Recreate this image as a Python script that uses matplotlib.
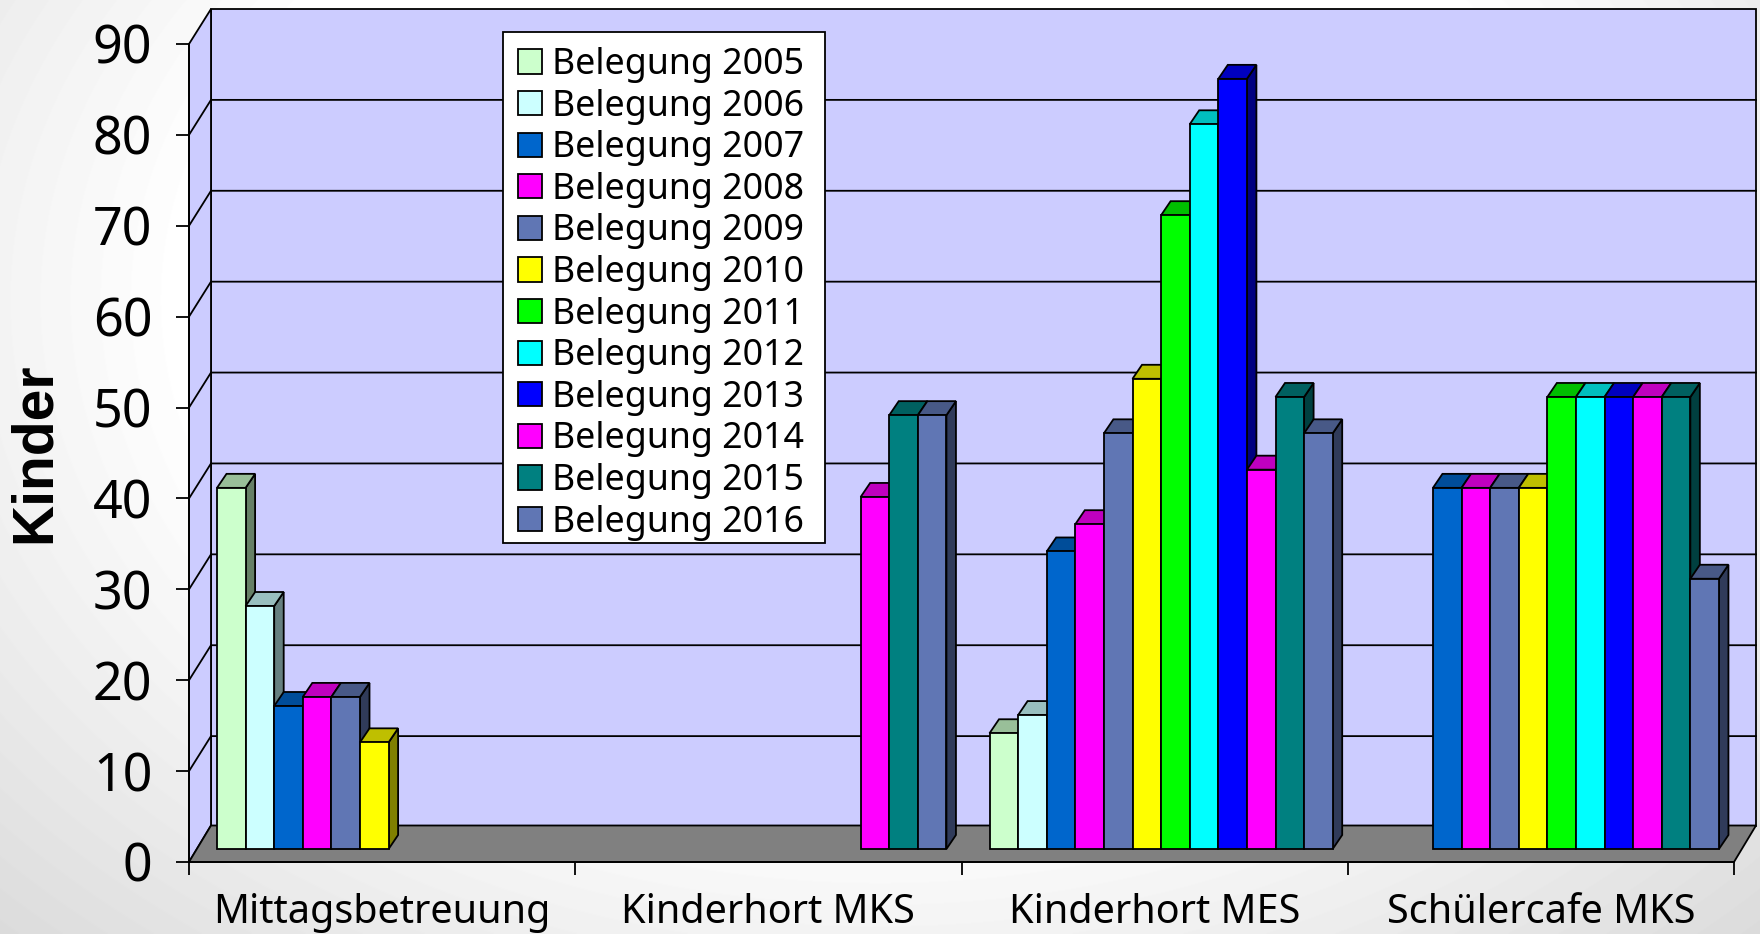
#!/usr/bin/env python3
"""Belegung chart: hand-built 3D-look clustered columns."""

import matplotlib
matplotlib.use('Agg')
import matplotlib.pyplot as plt
import matplotlib.patches as mpatches
from matplotlib.colors import to_rgb
import numpy as np

plt.rcParams['font.family'] = ['Noto Sans', 'DejaVu Sans']

nan = float('nan')

categories = ['Mittagsbetreuung', 'Kinderhort MKS', 'Kinderhort MES', 'Schülercafe MKS']
years = ['Belegung 2005', 'Belegung 2006', 'Belegung 2007', 'Belegung 2008',
         'Belegung 2009', 'Belegung 2010', 'Belegung 2011', 'Belegung 2012',
         'Belegung 2013', 'Belegung 2014', 'Belegung 2015', 'Belegung 2016']
colors = ['#CCFFCC', '#CCFFFF', '#0066CC', '#FF00FF', '#6076B4', '#FFFF00',
          '#00FF00', '#00FFFF', '#0000FF', '#FF00FF', '#008080', '#6076B4']

b2005 = [41, nan, 14, nan]
b2006 = [28, nan, 16, nan]
b2007 = [17, nan, 34, 41]
b2008 = [18, nan, 37, 41]
b2009 = [18, nan, 47, 41]
b2010 = [13, nan, 53, 41]
b2011 = [nan, nan, 71, 51]
b2012 = [nan, nan, 81, 51]
b2013 = [nan, nan, 86, 51]
b2014 = [nan, 40, 43, 51]
b2015 = [nan, 49, 51, 51]
b2016 = [nan, 49, 47, 31]
series = [b2005, b2006, b2007, b2008, b2009, b2010,
          b2011, b2012, b2013, b2014, b2015, b2016]
y_ticks = [0, 10, 20, 30, 40, 50, 60, 70, 80, 90]

W, H = 1760, 934
LEFT, RIGHT, BASE, TOP = 189, 1734, 862, 44   # front axis box, pixels
PX_X = 4 / (RIGHT - LEFT)
PX_Y = 90 / (BASE - TOP)
LW = 1.3

# depth of the box and of the bars
wall_dx = 22 * PX_X
floor_dy = 36.5 * PX_Y
grid_dy = 35 * PX_Y
bar_dx, bar_dy = 9.5 * PX_X, 14 * PX_Y
bar_w = 28.6 * PX_X
bar_off = 28 * PX_X
bar_floor = 13 * PX_Y
bar_lift = 1.5 * PX_Y


def shade(color, f):
    return tuple(c * f for c in to_rgb(color))


fig = plt.figure(figsize=(W / 100, H / 100), dpi=100)

# slide background
bg = fig.add_axes([0, 0, 1, 1], zorder=0)
yy, xx = np.mgrid[0:H, 0:W]
r = np.hypot((xx - 880) / 880, (yy - 300) / 634)
bg.imshow(1 - 0.16 * np.clip((r - 0.8) / 0.7, 0, 1), cmap='gray', vmin=0, vmax=1,
          aspect='auto')
bg.axis('off')

ax = fig.add_axes([LEFT / W, 1 - BASE / H, (RIGHT - LEFT) / W, (BASE - TOP) / H], zorder=1)
ax.set_xlim(0, 4)
ax.set_ylim(0, 90)
ax.patch.set_visible(False)
for s in ['top', 'right']:
    ax.spines[s].set_visible(False)
for s in ['left', 'bottom']:
    ax.spines[s].set_linewidth(LW)
    ax.spines[s].set_zorder(6)

top_y = y_ticks[-1]

# walls and floor
ax.add_patch(mpatches.Polygon([(wall_dx, floor_dy), (4 + wall_dx, floor_dy),
                               (4 + wall_dx, top_y + grid_dy), (wall_dx, top_y + grid_dy)],
                              fc='#CCCCFF', ec='black', lw=LW, clip_on=False, zorder=1))
ax.add_patch(mpatches.Polygon([(0, 0), (wall_dx, floor_dy),
                               (wall_dx, top_y + grid_dy), (0, top_y)],
                              fc='#CCCCFF', ec='black', lw=LW, clip_on=False, zorder=1))
for v in y_ticks[1:-1]:
    ax.plot([0, wall_dx, 4 + wall_dx], [v, v + grid_dy, v + grid_dy], color='black',
            lw=LW, clip_on=False, zorder=2, solid_joinstyle='miter')
ax.add_patch(mpatches.Polygon([(0, 0), (4, 0), (4 + wall_dx, floor_dy), (wall_dx, floor_dy)],
                              fc='#808080', ec='black', lw=LW, clip_on=False, zorder=2))

# bars: side, top, then front face, left to right so the next bar covers the side
for i, (vals, col) in enumerate(zip(series, colors)):
    for c, v in enumerate(vals):
        if np.isnan(v):
            continue
        x0 = c + bar_off + i * bar_w
        x1 = x0 + bar_w
        t = v + bar_lift
        ax.add_patch(mpatches.Polygon([(x1, bar_floor), (x1 + bar_dx, bar_floor + bar_dy),
                                       (x1 + bar_dx, t + bar_dy), (x1, t)],
                                      fc=shade(col, 0.5), ec='black', lw=LW,
                                      clip_on=False, zorder=3))
        ax.add_patch(mpatches.Polygon([(x0, t), (x1, t), (x1 + bar_dx, t + bar_dy),
                                       (x0 + bar_dx, t + bar_dy)],
                                      fc=shade(col, 0.75), ec='black', lw=LW,
                                      clip_on=False, zorder=3))
        ax.bar(x0, t - bar_floor, bar_w, bottom=bar_floor, align='edge', color=col,
               edgecolor='black', linewidth=LW, clip_on=False, zorder=3)

ax.set_yticks(y_ticks)
ax.tick_params(axis='y', length=9.4, width=LW, labelsize=37.5, pad=17)
ax.set_xticks(range(5))
ax.set_xticklabels([])
ax.tick_params(axis='x', length=9, width=LW)
ax.set_xticks([c + 0.5 for c in range(4)], categories, minor=True)
ax.tick_params(axis='x', which='minor', length=0, labelsize=28.5, pad=22)

ax.set_ylabel('Kinder', fontsize=41, fontweight='bold', family=['Liberation Sans'],
              va='baseline')
ax.yaxis.set_label_coords((50 - LEFT) / (RIGHT - LEFT), (BASE - 453) / (BASE - TOP))

# legend box drawn apart: its padding is tighter at the bottom than legend() allows
ax.add_patch(mpatches.Rectangle((503 / W, 1 - 543 / H), 322 / W, 511 / H, fc='white',
                                ec='black', lw=LW, transform=fig.transFigure,
                                clip_on=False, zorder=4))
handles = [mpatches.Patch(facecolor=c, edgecolor='black', linewidth=LW, label=y)
           for c, y in zip(colors, years)]
ax.legend(handles=handles, loc='upper left', bbox_to_anchor=(503 / W, 1 - 32 / H),
          bbox_transform=fig.transFigure, fontsize=25.7, frameon=False,
          handlelength=0.67, handleheight=0.67,
          handletextpad=0.28, labelspacing=0.157, borderpad=0.42, borderaxespad=0)

plt.savefig('out.png', dpi=100)
plt.close()
